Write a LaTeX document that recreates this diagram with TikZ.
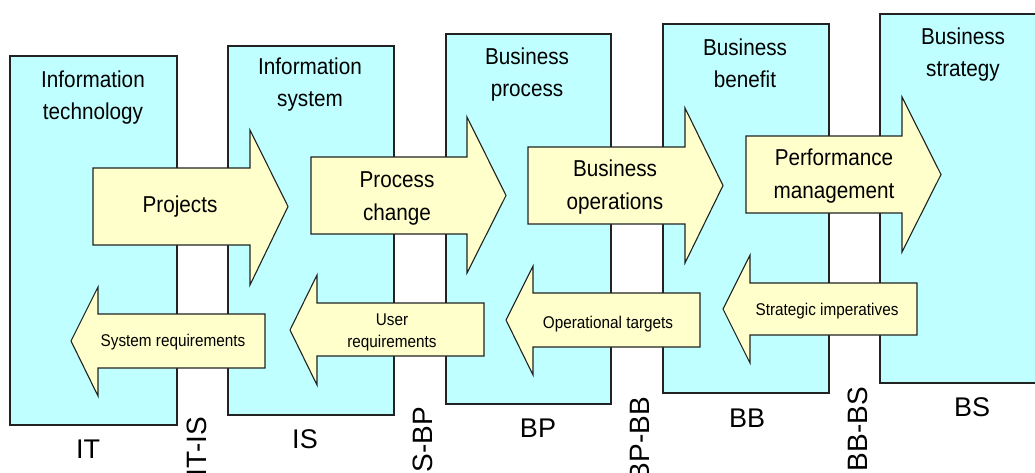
\documentclass[tikz,border=0pt]{standalone}
\usepackage{fontspec}
\setmainfont{Liberation Sans}
\newfontfamily\condfont[FakeStretch=0.9]{Liberation Sans}
\definecolor{boxcyan}{HTML}{BFFFFF}
\definecolor{arrowyellow}{HTML}{FFFFCC}
\definecolor{edgegray}{HTML}{222222}
\tikzset{
  layerbox/.style={draw=edgegray, fill=boxcyan, line width=1.1pt},
  blockarrow/.style={draw=edgegray, fill=arrowyellow, line width=1.1pt, line join=miter},
  titletext/.style={inner sep=0pt, align=center, font=\condfont\fontsize{23}{32}\selectfont},
  bigarrowtext/.style={inner sep=0pt, align=center, font=\condfont\fontsize{23}{33}\selectfont},
  smallarrowtext/.style={inner sep=0pt, align=center, font=\condfont\fontsize{17}{22}\selectfont},
  layerlabel/.style={inner sep=0pt, font=\fontsize{27}{30}\selectfont},
  gaplabel/.style={inner sep=0pt, rotate=90, anchor=east, font=\fontsize{28}{30}\selectfont}
}
\begin{document}
\begin{tikzpicture}[x=1pt,y=-1pt]
\useasboundingbox (0,0) rectangle (1035,472);
% layer boxes
\draw[layerbox] (10,56) rectangle (177,425);
\draw[layerbox] (228,46) rectangle (394,415);
\draw[layerbox] (446,34) rectangle (611,404);
\draw[layerbox] (663,24) rectangle (829,393);
\draw[layerbox] (880,14) rectangle (1045,383);
% right-pointing arrows
\draw[blockarrow] (93,168) -- (250,168) -- (250,130) -- (288,206.5) -- (250,285) -- (250,245) -- (93,245) -- cycle;
\draw[blockarrow] (311,157) -- (467,157) -- (467,117) -- (506,195.5) -- (467,273) -- (467,234) -- (311,234) -- cycle;
\draw[blockarrow] (528,147) -- (685,147) -- (685,108) -- (723,185.5) -- (685,263) -- (685,224) -- (528,224) -- cycle;
\draw[blockarrow] (746,136) -- (902,136) -- (902,97) -- (941,174.5) -- (902,252) -- (902,213) -- (746,213) -- cycle;
% left-pointing arrows
\draw[blockarrow] (265,314) -- (98,314) -- (98,287) -- (71,341) -- (98,396) -- (98,368) -- (265,368) -- cycle;
\draw[blockarrow] (484,303) -- (317,303) -- (317,275) -- (290,330) -- (317,385) -- (317,356) -- (484,356) -- cycle;
\draw[blockarrow] (700,293) -- (533,293) -- (533,266) -- (506,320) -- (533,375) -- (533,347) -- (700,347) -- cycle;
\draw[blockarrow] (917,283) -- (750,283) -- (750,255) -- (723,309) -- (750,363) -- (750,335) -- (917,335) -- cycle;
% titles
\node[titletext] (tIT) at (93,98) {Information\\technology};
\node[titletext] (tIS) at (310,85) {Information\\system};
\node[titletext] (tBP) at (527,75) {Business\\process};
\node[titletext] (tBB) at (745,63) {Business\\benefit};
\node[titletext] (tBS) at (963,55) {Business\\strategy};
% arrow labels
\node[bigarrowtext] (aPr) at (180,207) {Projects};
\node[bigarrowtext] (aPc) at (397,198) {Process\\change};
\node[bigarrowtext] (aBo) at (615,187) {Business\\operations};
\node[bigarrowtext] (aPm) at (834,176) {Performance\\management};
\node[smallarrowtext] (aSr) at (173,342) {System requirements};
\node[smallarrowtext] (aUr) at (392,332) {User\\requirements};
\node[smallarrowtext] (aOt) at (608,324) {Operational targets};
\node[smallarrowtext] (aSi) at (827,311) {Strategic imperatives};
% layer labels
\node[layerlabel] (lIT) at (88,449) {IT};
\node[layerlabel] (lIS) at (305,439) {IS};
\node[layerlabel] (lBP) at (538,428.5) {BP};
\node[layerlabel] (lBB) at (747,418) {BB};
\node[layerlabel] (lBS) at (972,407) {BS};
% gap labels
\node[gaplabel] (gITIS) at (197,417) {IT-IS};
\node[gaplabel] (gISBP) at (423,407) {IS-BP};
\node[gaplabel] (gBPBB) at (640,397) {BP-BB};
\node[gaplabel] (gBBBS) at (858,387) {BB-BS};
\end{tikzpicture}
\end{document}
